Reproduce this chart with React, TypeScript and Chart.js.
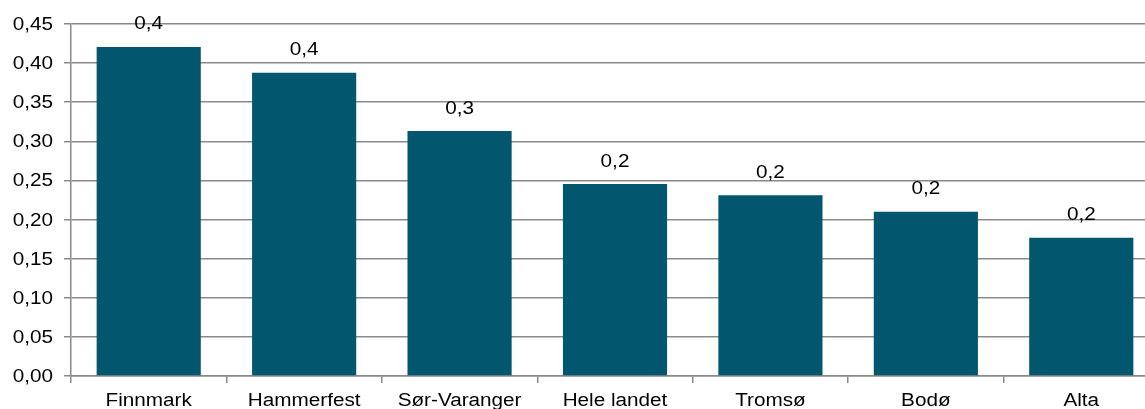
import React, { useEffect, useRef } from "react";
import { Chart, registerables } from "chart.js";

Chart.register(...registerables);

const categories = ["Finnmark", "Hammerfest", "Sør-Varanger", "Hele landet", "Tromsø", "Bodø", "Alta"];
const values = [0.4206, 0.3877, 0.3131, 0.2453, 0.2312, 0.2101, 0.1766];
const yMin = 0;
const yMax = 0.45;
const yStep = 0.05;

const FONT = "'Liberation Sans', Arial, sans-serif";
const FONT_SIZE = 18;
const STRETCH = 1.15;
const fmt = (v: number, d: number) => v.toFixed(d).replace(".", ",");

function stretchedText(ctx: any, text: string, x: number, y: number, align: string) {
  ctx.save();
  ctx.translate(x, y);
  ctx.scale(STRETCH, 1);
  ctx.textAlign = align;
  ctx.fillText(text, 0, 0);
  ctx.restore();
}

const textPlugin = {
  id: "textPlugin",
  afterDraw(chart: any) {
    const ctx = chart.ctx;
    ctx.save();
    ctx.font = `${FONT_SIZE}px ${FONT}`;
    ctx.fillStyle = "#000";
    ctx.textBaseline = "alphabetic";
    // value labels
    const meta = chart.getDatasetMeta(0);
    meta.data.forEach((bar: any, i: number) => {
      stretchedText(ctx, fmt(values[i], 1), bar.x, bar.y - 17.5, "center");
    });
    // y tick labels
    const ys = chart.scales.y;
    ys.ticks.forEach((t: any) => {
      const py = ys.getPixelForValue(t.value);
      stretchedText(ctx, fmt(t.value, 2), 53, py + 6, "right");
    });
    // x tick labels
    const xs = chart.scales.x;
    categories.forEach((c, i) => {
      stretchedText(ctx, c, xs.getPixelForValue(i), 406, "center");
    });
    ctx.restore();
  },
};

export default function App() {
  const ref = useRef<HTMLCanvasElement>(null);
  useEffect(() => {
    if (!ref.current) return;
    const chart = new Chart(ref.current, {
      type: "bar",
      data: {
        labels: categories,
        datasets: [
          {
            data: values,
            backgroundColor: "#02566e",
            barPercentage: 0.67,
            categoryPercentage: 1,
          },
        ],
      },
      plugins: [textPlugin],
      options: {
        animation: false,
        responsive: false,
        devicePixelRatio: 1,
        layout: { padding: { top: 24, right: 11, left: 0, bottom: 0 } },
        plugins: { legend: { display: false }, tooltip: { enabled: false } },
        scales: {
          x: {
            grid: {
              offset: true,
              drawOnChartArea: false,
              drawTicks: true,
              tickLength: 7,
              color: "#8a8a8a",
              lineWidth: 1.5,
            },
            border: { color: "#8a8a8a", width: 1.5 },
            ticks: { display: false, autoSkip: false },
            afterFit: (s: any) => {
              s.height = 54;
            },
          },
          y: {
            min: yMin,
            max: yMax,
            grid: {
              color: "#8a8a8a",
              lineWidth: 1.5,
              drawTicks: true,
              tickLength: 7,
            },
            border: { color: "#8a8a8a", width: 1.5 },
            ticks: { display: false, stepSize: yStep },
            afterFit: (s: any) => {
              s.width = 71;
            },
          },
        },
      },
    });
    return () => chart.destroy();
  }, []);
  return (
    <div style={{ position: "fixed", left: 0, top: 0, width: 1145, height: 409, overflow: "hidden", background: "#fff" }}>
      <canvas ref={ref} width={1170} height={430} style={{ width: 1170, height: 430, display: "block" }} />
    </div>
  );
}
